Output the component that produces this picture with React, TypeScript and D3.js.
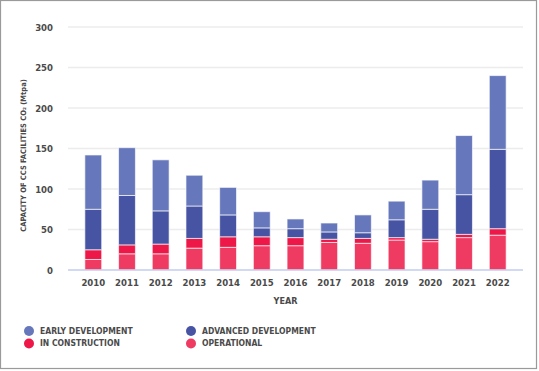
import { useEffect, useRef } from 'react';
import * as d3 from 'd3';

// Capacity of CCS facilities by status, Mtpa
const years = ['2010', '2011', '2012', '2013', '2014', '2015', '2016', '2017', '2018', '2019', '2020', '2021', '2022'];
const operational = [13, 20, 20, 27, 28, 30, 30, 34, 33, 37, 35, 40, 43];
const inConstruction = [12, 11, 12, 12, 13, 11, 10, 4, 6, 3, 3, 4, 8];
const advancedDev = [50, 61, 41, 40, 27, 11, 11, 9, 7, 22, 37, 49, 98];
const earlyDev = [67, 59, 63, 38, 34, 20, 12, 11, 22, 23, 36, 73, 91];
const yTicks = [0, 50, 100, 150, 200, 250, 300];

const seriesKeys = ['operational', 'inConstruction', 'advancedDev', 'earlyDev'];
const colors: Record<string, string> = {
  operational: '#EF3A62',
  inConstruction: '#EE1848',
  advancedDev: '#4654A3',
  earlyDev: '#6677BB',
};
const legendItems = [
  { key: 'earlyDev', label: 'EARLY DEVELOPMENT' },
  { key: 'advancedDev', label: 'ADVANCED DEVELOPMENT' },
  { key: 'inConstruction', label: 'IN CONSTRUCTION' },
  { key: 'operational', label: 'OPERATIONAL' },
];

const FONT = "'Liberation Sans Narrow', 'DejaVu Sans Condensed', 'Arial Narrow', sans-serif";

export default function App() {
  const svgRef = useRef<SVGSVGElement>(null);

  useEffect(() => {
    if (!svgRef.current) return;
    const W = 539;
    const H = 371;
    const margin = { top: 27, right: 16, bottom: 101, left: 68 };
    const width = W - margin.left - margin.right;
    const height = 270 - margin.top;

    const svgRoot = d3.select(svgRef.current);
    svgRoot.selectAll('*').remove();
    svgRoot.attr('width', W).attr('height', H);

    // frame
    svgRoot.append('rect')
      .attr('x', 0.5).attr('y', 0.5)
      .attr('width', W - 3).attr('height', H - 3)
      .attr('fill', '#fff')
      .attr('stroke', '#9a9a9a')
      .attr('stroke-width', 1.2);

    const svg = svgRoot.append('g')
      .attr('transform', `translate(${margin.left}, ${margin.top})`);

    const table = years.map((year, i) => ({
      year,
      operational: operational[i],
      inConstruction: inConstruction[i],
      advancedDev: advancedDev[i],
      earlyDev: earlyDev[i],
    }));

    const x = d3.scaleBand().domain(years).range([0, width]).padding(0.5);
    const y = d3.scaleLinear().domain([0, 300]).range([height, 0]);

    // grid
    svg.append('g')
      .selectAll('line')
      .data(yTicks.filter(t => t > 0))
      .join('line')
      .attr('x1', 0)
      .attr('x2', width)
      .attr('y1', d => y(d))
      .attr('y2', d => y(d))
      .attr('stroke', '#ececec')
      .attr('stroke-width', 1.5);

    const stacked = d3.stack<any>().keys(seriesKeys)(table);

    svg.append('g')
      .selectAll('g')
      .data(stacked)
      .join('g')
      .attr('fill', d => colors[d.key])
      .selectAll('rect')
      .data(d => d)
      .join('rect')
      .attr('x', d => x(d.data.year)!)
      .attr('width', x.bandwidth())
      .attr('y', d => y(d[1]))
      .attr('height', d => y(d[0]) - y(d[1]))
      .attr('stroke', 'rgba(255,255,255,0.65)')
      .attr('stroke-width', 1);

    // baseline
    svg.append('line')
      .attr('x1', 0).attr('x2', width)
      .attr('y1', height).attr('y2', height)
      .attr('stroke', '#c3cdf0')
      .attr('stroke-width', 1.5);

    // X axis
    svg.append('g')
      .attr('transform', `translate(0, ${height})`)
      .call(d3.axisBottom(x).tickSize(0).tickPadding(9))
      .call(g => g.select('.domain').remove())
      .selectAll('text')
      .attr('fill', '#4a4a4a')
      .attr('font-size', '9.5px')
      .attr('font-weight', 'bold')
      .attr('font-family', FONT);

    // Y axis
    svg.append('g')
      .call(d3.axisLeft(y).tickValues(yTicks).tickSize(0).tickPadding(15))
      .call(g => g.select('.domain').remove())
      .selectAll('text')
      .attr('fill', '#4a4a4a')
      .attr('font-size', '9.5px')
      .attr('font-weight', 'bold')
      .attr('font-family', FONT);

    // axis titles
    svg.append('text')
      .attr('x', width / 2 - 10)
      .attr('y', height + 34)
      .attr('text-anchor', 'middle')
      .attr('fill', '#4a4a4a')
      .attr('font-size', '9px')
      .attr('font-weight', 'bold')
      .attr('font-family', FONT)
      .text('YEAR');

    svg.append('text')
      .attr('transform', 'rotate(-90)')
      .attr('x', -(y(150) + 7))
      .attr('y', -42)
      .attr('text-anchor', 'middle')
      .attr('fill', '#4a4a4a')
      .attr('font-size', '7.5px')
      .attr('font-weight', 'bold')
      .attr('font-family', FONT)
      .text('CAPACITY OF CCS FACILITIES CO₂ (Mtpa)');

    // legend
    const legend = svgRoot.append('g');
    legendItems.forEach((item, i) => {
      const lx = i % 2 === 0 ? 29 : 191;
      const ly = i < 2 ? 331 : 343.5;
      legend.append('circle')
        .attr('cx', lx).attr('cy', ly).attr('r', 5)
        .attr('fill', colors[item.key]);
      legend.append('text')
        .attr('x', lx + 11)
        .attr('y', ly)
        .attr('dy', '0.35em')
        .attr('fill', '#4a4a4a')
        .attr('font-size', '8.5px')
        .attr('font-weight', 'bold')
        .attr('font-family', FONT)
        .text(item.label);
    });
  }, []);

  return (
    <div style={{ position: 'absolute', left: 0, top: 0 }}>
      <svg ref={svgRef}></svg>
    </div>
  );
}
